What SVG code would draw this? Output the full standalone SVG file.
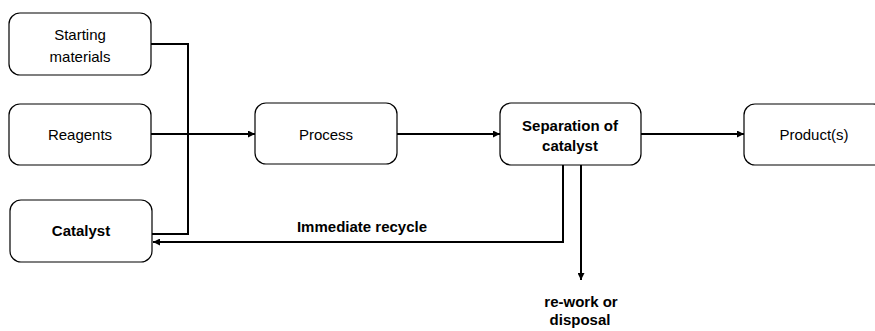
<svg xmlns="http://www.w3.org/2000/svg" width="875" height="331" viewBox="0 0 875 331">
<defs>
<style>
.box{fill:#fff;stroke:#000;stroke-width:1.2}
.t{font-family:"Liberation Sans",Arial,sans-serif;font-size:15px;fill:#000;text-anchor:middle}
.b{font-weight:bold}
.c{fill:none;stroke:#000;stroke-width:2}
</style>
<marker id="ah" viewBox="0 0 10 10" refX="10" refY="5" markerWidth="3.5" markerHeight="3.5" orient="auto" markerUnits="strokeWidth">
<path d="M0,0 L10,5 L0,10 z" fill="#000"/>
</marker>
</defs>
<rect width="875" height="331" fill="#fff"/>
<g id="connectors">
<path class="c" d="M151,44 H188 V234 H152"/>
<path class="c" d="M151,134 H255" marker-end="url(#ah)"/>
<path class="c" d="M397,134 H500" marker-end="url(#ah)"/>
<path class="c" d="M641,134 H744" marker-end="url(#ah)"/>
<path class="c" d="M563,165 V242 H153" marker-end="url(#ah)"/>
<path class="c" d="M581,165 V280" marker-end="url(#ah)"/>
<text class="t b" x="362" y="232">Immediate recycle</text>
<text class="t b" x="581" y="307">re-work or</text>
<text class="t b" x="580" y="325">disposal</text>
</g>
<g id="starting">
<rect class="box" x="9" y="13" width="142" height="62" rx="11"/>
<text class="t" x="80" y="40">Starting</text>
<text class="t" x="80" y="62">materials</text>
</g>
<g id="reagents">
<rect class="box" x="9" y="104" width="142" height="61" rx="11"/>
<text class="t" x="80" y="140">Reagents</text>
</g>
<g id="catalyst">
<rect class="box" x="10" y="200" width="142" height="62" rx="11"/>
<text class="t b" x="81" y="236">Catalyst</text>
</g>
<g id="process">
<rect class="box" x="255" y="103" width="142" height="61" rx="11"/>
<text class="t" x="326" y="140">Process</text>
</g>
<g id="separation">
<rect class="box" x="500" y="103" width="141" height="62" rx="11"/>
<text class="t b" x="570" y="131">Separation of</text>
<text class="t b" x="570" y="151">catalyst</text>
</g>
<g id="product">
<rect class="box" x="744" y="104" width="140" height="61" rx="11"/>
<text class="t" x="814" y="140">Product(s)</text>
</g>
</svg>
